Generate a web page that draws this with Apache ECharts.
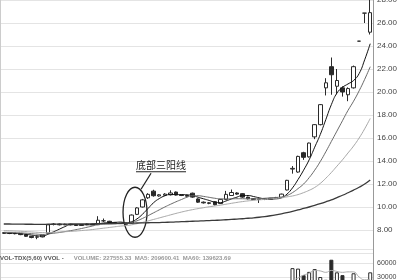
<!DOCTYPE html>
<html><head><meta charset="utf-8">
<script src="https://cdn.jsdelivr.net/npm/echarts@6/dist/echarts.min.js"></script>
<style>html,body{margin:0;padding:0;background:#fff}#c{width:400px;height:280px}</style>
</head><body><div id="c"></div>
<script>
const categories = ['1','2','3','4','5','6','7','8','9','10','11','12','13','14','15','16','17','18','19','20','21','22','23','24','25','26','27','28','29','30','31','32','33','34','35','36','37','38','39','40','41','42','43','44','45','46','47','48','49','50','51','52','53','54','55','56','57','58','59','60','61','62','63','64','65','66','67'];
const opens = [7.76,7.72,7.70,7.68,7.60,7.45,7.38,7.40,7.72,8.48,8.52,8.45,8.50,8.45,8.40,8.46,8.52,8.46,8.80,8.76,8.66,8.58,8.56,8.60,9.36,10.00,10.80,11.38,10.96,11.02,11.06,11.30,11.04,11.00,11.20,10.70,10.42,10.36,10.46,10.30,10.66,11.00,11.22,11.16,10.86,10.72,10.66,10.70,10.66,10.76,10.82,11.48,13.30,13.04,14.72,14.36,16.10,17.16,20.36,22.20,20.50,20.36,19.76,20.36,24.42,26.86,25.20];
const closes = [7.72,7.70,7.68,7.60,7.45,7.35,7.40,7.55,8.45,8.52,8.45,8.50,8.45,8.40,8.46,8.52,8.46,8.85,8.80,8.66,8.55,8.56,8.50,9.30,9.92,10.62,11.10,10.98,11.06,11.12,11.22,11.04,11.00,10.94,10.86,10.42,10.36,10.32,10.20,10.66,11.10,11.26,11.12,10.86,10.72,10.66,10.70,10.66,10.76,10.82,11.12,12.32,13.36,14.40,14.32,15.56,17.16,18.90,20.80,21.50,21.00,20.00,20.30,22.20,24.42,26.86,26.90];
const lows = [7.66,7.64,7.62,7.55,7.40,7.28,7.20,7.36,7.70,8.40,8.40,8.42,8.40,8.36,8.38,8.42,8.42,8.44,8.70,8.60,8.52,8.52,8.46,8.56,9.30,9.96,10.70,10.90,10.90,10.98,11.00,11.00,10.95,10.90,10.80,10.36,10.30,10.24,10.14,10.26,10.62,10.96,11.06,10.80,10.66,10.60,10.35,10.60,10.62,10.72,10.80,11.44,12.90,12.98,14.10,14.30,15.90,17.10,19.70,19.76,19.80,19.60,19.20,20.30,24.42,26.00,25.00];
const highs = [7.80,7.76,7.74,7.70,7.62,7.48,7.45,7.58,8.50,8.60,8.56,8.55,8.54,8.48,8.50,8.56,8.55,9.20,9.00,8.80,8.68,8.62,8.60,9.35,9.98,10.70,11.20,11.50,11.12,11.20,11.45,11.35,11.08,11.05,11.25,10.76,10.48,10.42,10.50,10.70,11.40,11.52,11.28,11.20,10.90,10.76,10.74,10.74,10.80,10.88,11.16,12.36,13.56,14.46,14.80,15.60,17.20,18.95,21.20,23.00,22.00,20.50,20.40,22.30,24.42,26.86,29.50];
const ma5 = [7.75,7.73,7.71,7.68,7.63,7.56,7.50,7.47,7.64,7.85,8.07,8.29,8.47,8.46,8.45,8.46,8.45,8.53,8.61,8.65,8.66,8.69,8.62,8.72,8.97,9.38,9.88,10.38,10.73,10.97,11.09,11.08,11.08,11.06,11.01,10.85,10.71,10.57,10.42,10.38,10.52,10.70,10.86,11.0,11.0,10.91,10.8,10.71,10.69,10.71,10.80,11.12,11.66,12.39,13.2,14.1,15.2,16.3,17.6,18.9,19.9,20.4,20.7,21.0,21.6,22.8,24.2];
const ma10 = [7.80,7.79,7.77,7.75,7.72,7.68,7.64,7.61,7.66,7.72,7.78,7.86,7.94,8.03,8.13,8.24,8.35,8.47,8.51,8.53,8.54,8.55,8.57,8.65,8.80,9.01,9.25,9.50,9.75,10.0,10.23,10.45,10.65,10.85,10.98,10.98,10.92,10.84,10.76,10.71,10.70,10.71,10.72,10.72,10.71,10.71,10.73,10.76,10.80,10.83,10.87,11.0,11.25,11.6,12.0,12.55,13.2,13.95,14.8,15.7,16.6,17.5,18.4,19.2,20.1,21.1,22.2];
const ma20 = [7.95,7.93,7.91,7.89,7.86,7.83,7.80,7.77,7.78,7.80,7.82,7.85,7.88,7.91,7.95,7.99,8.04,8.10,8.16,8.22,8.28,8.34,8.38,8.45,8.55,8.66,8.79,8.92,9.05,9.18,9.31,9.44,9.56,9.67,9.77,9.86,9.94,10.02,10.09,10.16,10.24,10.32,10.40,10.47,10.53,10.58,10.62,10.66,10.70,10.74,10.80,10.88,10.96,11.08,11.25,11.45,11.7,12.05,12.5,13.0,13.55,14.1,14.7,15.3,16.0,16.8,17.7];
const ma60 = [8.52,8.52,8.51,8.51,8.50,8.50,8.49,8.49,8.50,8.50,8.51,8.51,8.52,8.52,8.53,8.53,8.54,8.55,8.55,8.56,8.57,8.58,8.59,8.60,8.61,8.62,8.63,8.64,8.65,8.67,8.68,8.70,8.72,8.74,8.76,8.78,8.80,8.82,8.84,8.86,8.89,8.92,8.95,8.98,9.02,9.06,9.11,9.17,9.24,9.32,9.41,9.51,9.62,9.74,9.87,10.0,10.14,10.29,10.45,10.62,10.82,11.02,11.24,11.47,11.72,12.0,12.35];
const volumes = [9000,8500,8000,9500,11000,12000,10500,9000,21000,15000,12000,11000,10000,9500,9000,9500,10000,16000,13000,11000,10500,10000,9500,18000,20000,22000,21000,17000,14000,13000,15000,14000,12000,11500,13000,15000,12000,11000,12500,14000,17000,16000,13000,12500,11500,11000,10500,10000,11000,12000,19000,21000,49000,48000,34000,41000,47000,30000,24000,67000,40000,34000,22000,38000,8000,15000,40000];
const volMa5 = [10000,9800,9500,9200,9200,9800,10200,10300,12700,13500,13500,13600,13800,11300,10300,9800,9600,10800,11500,11900,12100,12100,11000,12200,14000,16000,18100,19600,18800,17400,16000,14600,13600,13100,13100,13100,13100,12700,12700,12900,13500,14100,14500,14600,14000,12800,12000,11000,10800,11000,12700,16000,22000,28000,34000,38000,44000,43000,40000,44000,42000,40000,41000,41000,30000,24000,25000];
const priceTicks = {min: 6, max: 28, interval: 2};
const volTicks = {min: 0, max: 90000, interval: 30000};
const markerPrice = 17.4;
const markerText = '18.00';
const annotationText = '底部三阳线';
const annotatedCandles = [23, 24, 25];
const volHeadA = 'VOL-TDX(5,60) VVOL -';
const volHeadB = 'VOLUME: 227555.33  MA5: 209600.41  MA60: 139623.69';

const ink = '#2a2a2a';
const candleData = categories.map((_, i) => [opens[i], closes[i], lows[i], highs[i]]);
const volData = volumes.map((v, i) => ({
  value: v,
  itemStyle: closes[i] >= opens[i] ? {color: '#fff', borderColor: ink, borderWidth: 1} : {color: ink, borderColor: ink, borderWidth: 1}
}));

const chart = echarts.init(document.getElementById('c'), null, {renderer: 'canvas'});
const axisFont = {fontFamily: 'Liberation Sans', fontSize: 8, color: '#444'};
chart.setOption({
  animation: false,
  backgroundColor: '#fff',
  title: {
    left: 0, top: 249, padding: 0,
    text: '{a|' + volHeadA + '}  {b|' + volHeadB + '}',
    textStyle: {rich: {
      a: {fontFamily: 'Liberation Sans', fontSize: 6, color: '#555'},
      b: {fontFamily: 'Liberation Sans', fontSize: 6, color: '#999'}
    }}
  },
  grid: [
    {left: 1, right: 27, top: 0, height: 253, outerBoundsMode: 'none', containLabel: false},
    {left: 1, right: 27, top: 249, height: 42, outerBoundsMode: 'none', containLabel: false}
  ],
  xAxis: [
    {type: 'category', data: categories, gridIndex: 0, boundaryGap: true, show: false},
    {type: 'category', data: categories, gridIndex: 1, boundaryGap: true, show: false}
  ],
  yAxis: [
    {type: 'value', gridIndex: 0, position: 'right', min: priceTicks.min, max: priceTicks.max, interval: priceTicks.interval,
     axisLine: {show: true, lineStyle: {color: '#999'}}, axisTick: {show: false},
     axisLabel: Object.assign({margin: 4, formatter: v => v <= priceTicks.min ? '' : v.toFixed(2)}, axisFont),
     splitLine: {show: true, lineStyle: {color: '#e4e4e4', width: 1}}},
    {type: 'value', gridIndex: 1, position: 'right', min: volTicks.min, max: volTicks.max, interval: volTicks.interval,
     axisLine: {show: true, lineStyle: {color: '#999'}}, axisTick: {show: false},
     axisLabel: Object.assign({margin: 4, formatter: v => (v <= 0 || v >= volTicks.max) ? '' : String(v)}, axisFont, {fontSize: 7}),
     splitLine: {show: true, lineStyle: {color: '#e4e4e4', width: 1}}}
  ],
  series: [
    {type: 'candlestick', xAxisIndex: 0, yAxisIndex: 0, data: candleData, barWidth: 4, clip: true,
     itemStyle: {color: '#fff', color0: ink, borderColor: ink, borderColor0: ink, borderWidth: 1},
     markLine: {silent: true, symbol: 'none', lineStyle: {opacity: 0},
       data: [{yAxis: markerPrice}],
       label: {show: true, position: 'end', distance: 2, formatter: markerText, backgroundColor: '#d9d9d9',
         padding: [1, 2], fontFamily: 'Liberation Sans', fontSize: 8, color: '#333'}}},
    {type: 'line', xAxisIndex: 0, yAxisIndex: 0, data: ma5, symbol: 'none', smooth: true, lineStyle: {color: '#111', width: 1}, z: 3},
    {type: 'line', xAxisIndex: 0, yAxisIndex: 0, data: ma10, symbol: 'none', smooth: true, lineStyle: {color: '#6a6a6a', width: 1}, z: 3},
    {type: 'line', xAxisIndex: 0, yAxisIndex: 0, data: ma20, symbol: 'none', smooth: true, lineStyle: {color: '#a8a8a8', width: 1}, z: 3},
    {type: 'line', xAxisIndex: 0, yAxisIndex: 0, data: ma60, symbol: 'none', smooth: true, lineStyle: {color: '#3a3a3a', width: 1.3}, z: 3},
    {type: 'bar', xAxisIndex: 1, yAxisIndex: 1, data: volData, barWidth: 4},
    {type: 'line', xAxisIndex: 1, yAxisIndex: 1, data: volMa5, symbol: 'none', smooth: true, lineStyle: {color: '#aaa', width: 1}}
  ]
});

// annotation placed relative to the three highlighted candles
const iMid = annotatedCandles[1];
const topP = chart.convertToPixel({xAxisIndex: 0, yAxisIndex: 0}, [iMid, highs[annotatedCandles[2]]]);
const botP = chart.convertToPixel({xAxisIndex: 0, yAxisIndex: 0}, [iMid, lows[annotatedCandles[0]]]);
const cx = topP[0] - 2;
const cy = (topP[1] + botP[1]) / 2 + 1;
const rx = 12, ry = 25;
chart.setOption({
  graphic: [
    {type: 'line', shape: {x1: 0.5, y1: 0, x2: 0.5, y2: 280}, style: {stroke: '#ccc', lineWidth: 1}, silent: true},
    {type: 'ellipse', shape: {cx: cx, cy: cy, rx: rx, ry: ry}, style: {fill: 'none', stroke: '#222', lineWidth: 1.3}, silent: true},
    {type: 'line', shape: {x1: cx + 16, y1: cy - ry - 14, x2: cx + 6, y2: cy - ry + 2}, style: {stroke: '#222', lineWidth: 1.3}, silent: true},
    {type: 'text', x: cx + 26, y: cy - ry - 17, style: {text: annotationText, fill: '#222', font: '10px "Noto Sans CJK SC"', align: 'center', verticalAlign: 'bottom'}, silent: true},
    {type: 'line', shape: {x1: cx + 1, y1: cy - ry - 15.5, x2: cx + 51, y2: cy - ry - 15.5}, style: {stroke: '#222', lineWidth: 1}, silent: true}
  ]
});
</script></body></html>
